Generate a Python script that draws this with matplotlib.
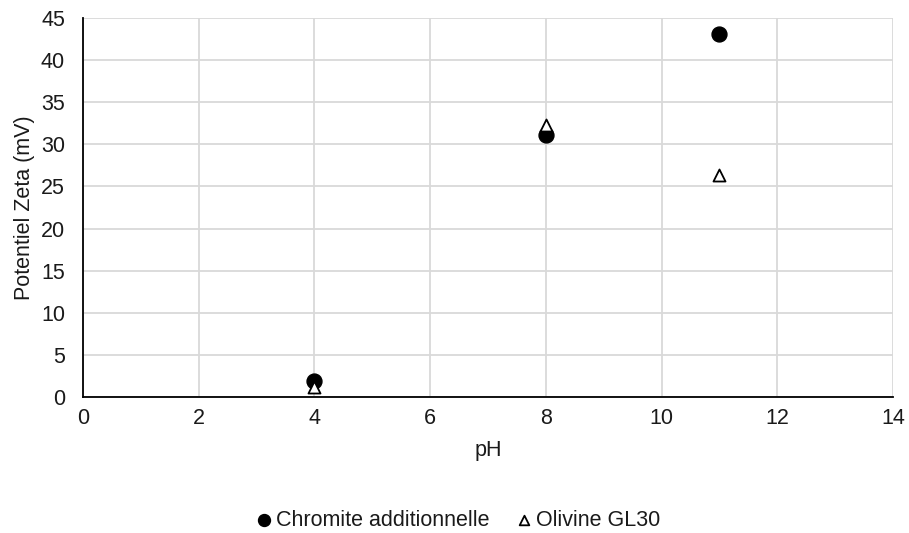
import numpy as np
import matplotlib.pyplot as plt

plt.rcParams['font.family'] = ['Liberation Sans', 'DejaVu Sans']

ph = [4, 8, 11]
chromite = [1.9, 31.1, 43.1]
olivine = [1.2, 32.3, 26.4]

fig = plt.figure(figsize=(9.09, 5.33), dpi=100)
ax = fig.add_axes([0.0913, 0.2552, 0.8911, 0.711])

ax.scatter(ph, chromite, marker='o', s=115, color='black', zorder=3,
           label='Chromite additionnelle')
ax.scatter(ph, olivine, marker='^', s=75, facecolor='white', edgecolor='black',
           linewidth=1.3, zorder=4, label='Olivine GL30')

ax.set_xlim(0, 14)
ax.set_ylim(0, 45)
ax.set_xticks(np.arange(0, 15, 2))
ax.set_yticks(np.arange(0, 46, 5))
ax.grid(True, color='#d9d9d9', linewidth=1.3)
ax.set_axisbelow(True)
for s in ['top', 'right']:
    ax.spines[s].set_visible(False)
for s in ['bottom', 'left']:
    ax.spines[s].set_color('black')
    ax.spines[s].set_linewidth(1.3)
ax.tick_params(length=0, labelsize=15.5, labelcolor='#1a1a1a')
ax.tick_params(axis='y', pad=13)
ax.tick_params(axis='x', pad=8)

ax.set_xlabel('pH', fontsize=15.5, color='#1a1a1a', labelpad=8)
ax.set_ylabel('Potentiel Zeta (mV)', fontsize=15.5, color='#1a1a1a', labelpad=4)

leg = ax.legend(loc='center', bbox_to_anchor=(0.458, -0.326), ncol=2, frameon=False,
                fontsize=15.5, handletextpad=-0.2, columnspacing=0.85,
                handlelength=1.5, markerscale=0.8, borderpad=0)
for t in leg.get_texts():
    t.set_color('#1a1a1a')

fig.savefig('out.png', dpi=100)
